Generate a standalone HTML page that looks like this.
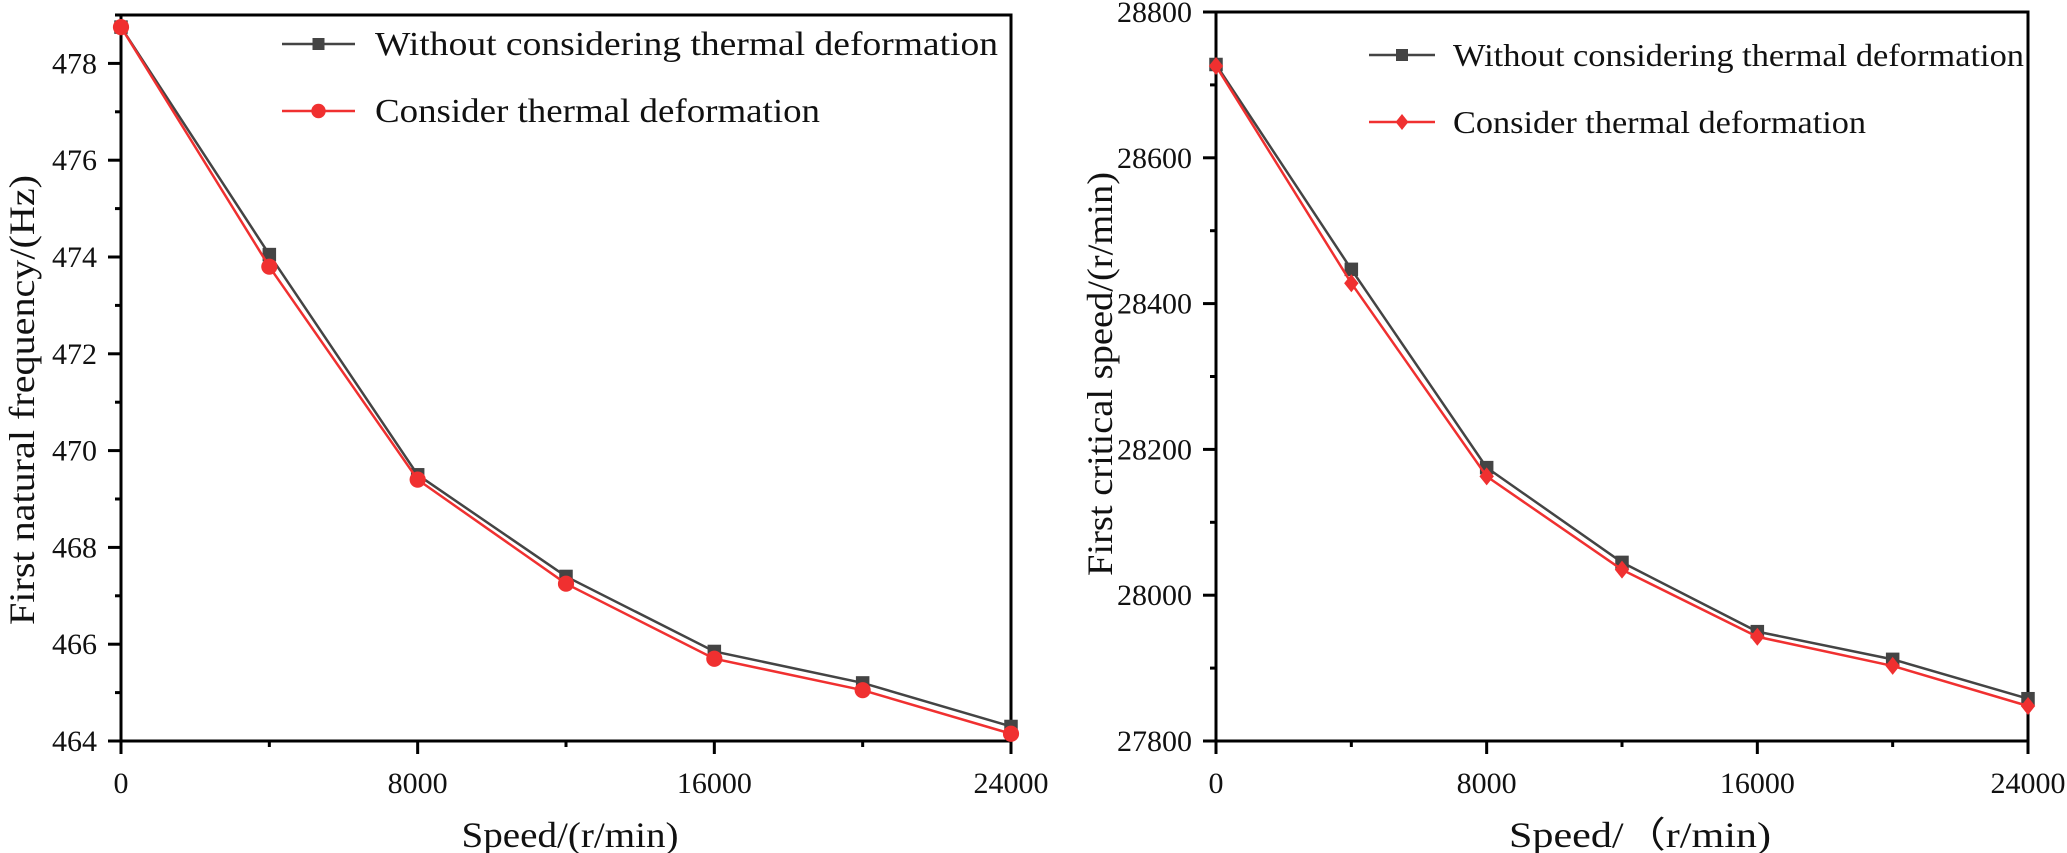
<!DOCTYPE html>
<html><head><meta charset="utf-8"><style>
html,body{margin:0;padding:0;background:#fff;}
svg{display:block;font-family:"Liberation Serif",serif;}
</style></head><body>
<svg id="chart" width="2067" height="853" viewBox="0 0 2067 853" xmlns="http://www.w3.org/2000/svg"></svg>
<script>
const speeds = [0, 4000, 8000, 12000, 16000, 20000, 24000];
const freqWithout = [478.75, 474.05, 469.5, 467.4, 465.85, 465.2, 464.3];
const freqWith = [478.75, 473.8, 469.4, 467.25, 465.7, 465.05, 464.15];
const critWithout = [28728, 28447, 28175, 28045, 27950, 27912, 27858];
const critWith = [28726, 28428, 28163, 28035, 27943, 27903, 27848];
const xTicks = [0, 8000, 16000, 24000];
const leftYTicks = [464, 466, 468, 470, 472, 474, 476, 478];
const rightYTicks = [27800, 28000, 28200, 28400, 28600, 28800];
const legendLabels = ["Without considering thermal deformation", "Consider thermal deformation"];

const NS = "http://www.w3.org/2000/svg";
const svg = document.getElementById("chart");
function mk(tag, attrs, parent){
  const e = document.createElementNS(NS, tag);
  for (const k in attrs) e.setAttribute(k, attrs[k]);
  (parent || svg).appendChild(e);
  return e;
}

function drawPanel(cfg){
  const g = mk("g", {});
  
  
  const {x0, x1, y0, y1, ymin, ymax, ystep} = cfg;
  const xs = v => x0 + (v - 0) / 24000 * (x1 - x0);
  const ys = v => y1 - (v - ymin) / (ymax - ymin) * (y1 - y0);
  const fr = mk("rect", {x:x0, y:y0, width:x1-x0, height:y1-y0, fill:"none", stroke:"#000", "stroke-width":3}, g);
  
  
  for (let v = 0; v <= 24000; v += 4000) {
    const major = xTicks.includes(v);
    mk("line", {x1:xs(v), x2:xs(v), y1:y1, y2:y1 + (major ? 13 : 6), stroke:"#000", "stroke-width":3}, g);
  }
  xTicks.forEach(v => {
    const t = mk("text", {x:xs(v), y:y1 + 52, "text-anchor":"middle", "font-size":30, fill:"#111"}, g);
    t.textContent = v;
    
    
  });
  for (let v = ymin; v <= ymax + 1e-9; v += ystep / 2) {
    const major = Math.abs((v - ymin) / ystep - Math.round((v - ymin) / ystep)) < 1e-6;
    mk("line", {x1:x0 - (major ? 13 : 6), x2:x0, y1:ys(v), y2:ys(v), stroke:"#000", "stroke-width":3}, g);
  }
  cfg.yTicks.forEach(v => {
    const t = mk("text", {x:x0 - 24, y:ys(v) + 10, "text-anchor":"end", "font-size":30, fill:"#111"}, g);
    t.textContent = v;
    
    
  });
  const xt = mk("text", {x:cfg.xTitleX, y:847, "text-anchor":"middle", "font-size":36, fill:"#111", textLength:cfg.xTitleW, lengthAdjust:"spacingAndGlyphs"}, g);
  xt.textContent = cfg.xTitle;
  
  
  const yt = mk("text", {x:0, y:0, "text-anchor":"middle", "font-size":36, fill:"#111", textLength:cfg.yTitleW, lengthAdjust:"spacingAndGlyphs",
    transform:`translate(${cfg.yTitleX},${cfg.yTitleC}) rotate(-90)`}, g);
  yt.textContent = cfg.yTitle;
  
  
  const series = [
    {vals: cfg.s1, color:"#444", marker:"square", name:"series-without-thermal"},
    {vals: cfg.s2, color:"#f03030", marker:cfg.redMarker, name:"series-with-thermal"}
  ];
  series.forEach(s => {
    const pts = speeds.map((v,i) => xs(v) + "," + ys(s.vals[i])).join(" ");
    const pl = mk("polyline", {points:pts, fill:"none", stroke:s.color, "stroke-width":2.5}, g);
    
    
    speeds.forEach((v,i) => {
      const m = drawMarker(g, s.marker, xs(v), ys(s.vals[i]), s.color, 9);
      
      
    });
  });
  const L = cfg.legend;
  [0,1].forEach(i => {
    const lg = mk("g", {}, g);
    
    
    const yy = L.y + i * L.dy;
    const col = i === 0 ? "#444" : "#f03030";
    mk("line", {x1:L.lx1, x2:L.lx2, y1:yy, y2:yy, stroke:col, "stroke-width":2.5}, lg);
    drawMarker(lg, i === 0 ? "square" : cfg.redMarker, (L.lx1 + L.lx2) / 2, yy, col, 8);
    const t = mk("text", {x:L.tx, y:yy + 11, "font-size":L.fs, fill:"#111", textLength:L.tw[i], lengthAdjust:"spacingAndGlyphs"}, lg);
    t.textContent = legendLabels[i];
  });
}

function drawMarker(g, type, cx, cy, color, r){
  if (type === "square") return mk("rect", {x:cx-r*0.75, y:cy-r*0.75, width:r*1.5, height:r*1.5, fill:color}, g);
  if (type === "circle") return mk("circle", {cx:cx, cy:cy, r:r*0.9, fill:color}, g);
  return mk("polygon", {points:`${cx},${cy-r} ${cx+r*0.8},${cy} ${cx},${cy+r} ${cx-r*0.8},${cy}`, fill:color}, g);
}

drawPanel({name:"left-panel-natural-frequency", x0:121, x1:1011, y0:15, y1:741, ymin:464, ymax:479, ystep:2,
  yTicks:leftYTicks, s1:freqWithout, s2:freqWith, redMarker:"circle",
  xTitle:"Speed/(r/min)", xTitleX:570, xTitleW:217, yTitle:"First natural frequency/(Hz)", yTitleX:34, yTitleC:400, yTitleW:450,
  legend:{lx1:282, lx2:355, tx:375, tw:[623, 445], fs:34, y:44, dy:67}});
drawPanel({name:"right-panel-critical-speed", x0:1216, x1:2028, y0:12, y1:741, ymin:27800, ymax:28800, ystep:200,
  yTicks:rightYTicks, s1:critWithout, s2:critWith, redMarker:"diamond",
  xTitle:"Speed/（r/min)", xTitleX:1640, xTitleW:262, yTitle:"First critical speed/(r/min)", yTitleX:1112, yTitleC:374, yTitleW:404,
  legend:{lx1:1369, lx2:1435, tx:1453, tw:[571, 413], fs:32, y:55, dy:67}});
</script>
</body></html>
